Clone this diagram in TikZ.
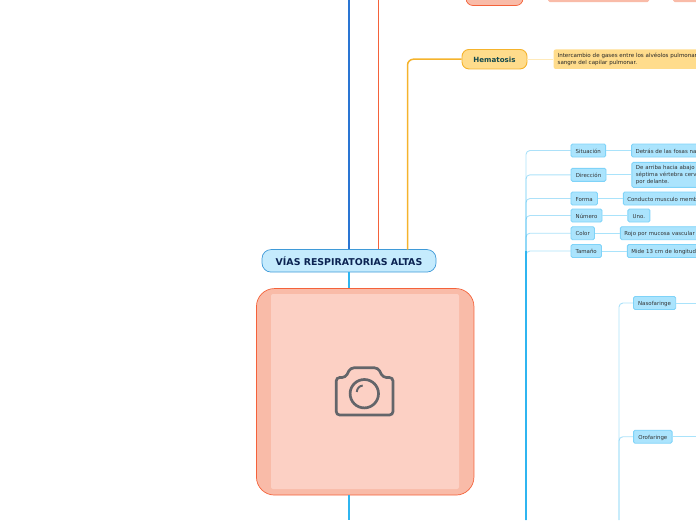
\documentclass[tikz,border=0pt]{standalone}
\usepackage{fontspec}
\setmainfont{DejaVu Sans}
\usetikzlibrary{positioning}
\definecolor{mainblue}{HTML}{2A75D3}
\definecolor{mainred}{HTML}{F4623A}
\definecolor{mainorange}{HTML}{F5B32C}
\definecolor{skyline}{HTML}{2FB5F0}
\definecolor{skyfill}{HTML}{ABE4FD}
\definecolor{skyedge}{HTML}{7FD3F8}
\definecolor{skylight}{HTML}{A9E3FB}
\definecolor{titlefill}{HTML}{C5EBFD}
\definecolor{titleedge}{HTML}{3F9AD8}
\definecolor{titletext}{HTML}{0B2352}
\definecolor{hematext}{HTML}{14494D}
\definecolor{yellowfill}{HTML}{FFDC8C}
\definecolor{salmonfill}{HTML}{F9BBA8}
\definecolor{salmonlight}{HTML}{FCD0C4}
\definecolor{icongray}{HTML}{63656A}
\tikzset{
    subbox/.style={draw=skyedge, line width=0.9pt, fill=skyfill, rounded corners=1.5pt, inner sep=0pt,
        minimum height=13pt, text height=5pt, text depth=0pt, font=\fontsize{5.45}{6.7}\selectfont, text=black!80},
    detailbox/.style={subbox, align=left, text width=#1, inner sep=0pt, inner xsep=4pt},
    branchline/.style={skyline, opacity=0.4, line width=0.9pt, rounded corners=4pt},
    leafline/.style={skylight, line width=0.8pt}
}
\begin{document}
\begin{tikzpicture}[x=1pt, y=-1pt]
        \useasboundingbox (0,0) rectangle (696,520);
        % central topic and picture
        \node[draw=titleedge, fill=titlefill, rounded corners=9pt, line width=0.7pt, minimum width=174pt, minimum height=22.5pt,
            inner sep=0pt, text=titletext, font=\fontsize{9.4}{11}\selectfont\bfseries] (vias) at (349,260.8) {VÍAS RESPIRATORIAS ALTAS};
        \node[draw=mainred, fill=salmonfill, rounded corners=18pt, line width=0.7pt, minimum width=217.5pt, minimum height=206.5pt, inner sep=0pt] (imagen) at (365.2,391.8) {};
        \node[fill=salmonlight, rounded corners=2pt, minimum width=188pt, minimum height=195pt, inner sep=0pt] (foto) at (365,391.5) {};
        \coordinate (topblue) at (349.2,0);
        \coordinate (topred) at (378.3,0);
        \coordinate (bottomline) at (349.2,520);
        \draw[mainblue, line width=1.5pt] (topblue) -- (topblue |- vias.north);
        \draw[mainred, line width=1.6pt] (topred) -- (topred |- vias.north);
        \draw[skyline, line width=1.6pt] (topblue |- vias.south) -- (topblue |- imagen.north);
        \draw[skyline, line width=1.6pt] (topblue |- imagen.south) -- (bottomline);
        % camera
        \draw[icongray, line width=2.7pt, rounded corners=3.5pt] (336.2,377.5) -- (345.5,377.5) -- (350.5,367.8) -- (378,367.8) -- (383,377.5) -- (393,377.5) -- (393,415) -- (336.2,415) -- cycle;
        \draw[icongray, line width=2.7pt] (364.3,393.7) circle (14.2pt);
        \draw[icongray, line width=1.9pt] (356.8,392) arc[start angle=180, end angle=95, radius=6.5pt];
        % top cut nodes
        \node[draw=mainred, fill=salmonfill, rounded corners=7pt, line width=0.7pt, minimum width=57pt, minimum height=22pt, inner sep=0pt] (rojo) at (494.5,-5.5) {};
        \node[fill=salmonfill, rounded corners=1.5pt, minimum width=101pt, minimum height=14pt, inner sep=0pt] (rojoa) at (598.5,-5) {};
        \node[fill=salmonfill, rounded corners=1.5pt, minimum width=60pt, minimum height=14pt, inner sep=0pt] (rojob) at (703,-5) {};
        % hematosis
        \node[draw=mainorange, fill=yellowfill, rounded corners=7pt, line width=0.9pt, minimum width=65pt, minimum height=19.5pt, inner sep=0pt,
            text height=6pt, text depth=0pt, text=hematext, font=\fontsize{7.1}{8}\selectfont\bfseries] (hematosis) at (494.5,59.2) {Hematosis};
        \node[fill=yellowfill, rounded corners=2pt, align=left, text width=175pt, inner xsep=4pt, inner ysep=0pt, minimum height=19.5pt, anchor=west,
            text=black!85, font=\fontsize{5.55}{7}\selectfont, right=26pt of hematosis] (intercambio) {Intercambio de gases entre los alvéolos pulmonar\\sangre del capilar pulmonar.};
        \draw[mainorange, line width=1.5pt, rounded corners=6pt] (hematosis.west) -| (407.5,249.5);
        \draw[yellowfill!60, line width=0.8pt] (hematosis) -- (intercambio);
        % first group
        \node[subbox, minimum width=34.7pt] (situacion) at (588.3,150.5) {Situación};
        \node[subbox, minimum width=35pt] (direccion) at (588.5,174.8) {Dirección};
        \node[subbox, minimum width=26.5pt] (forma) at (584.2,198.5) {Forma};
        \node[subbox, minimum width=31pt] (numero) at (586.5,215.5) {Número};
        \node[subbox, minimum width=23.5pt] (color) at (582.7,233.2) {Color};
        \node[subbox, minimum width=30.5pt] (tamano) at (586.2,251) {Tamaño};
        \node[detailbox=70pt, right=25pt of situacion] (detras) {Detrás de las fosas na};
        \node[detailbox=70pt, text height=, text depth=, minimum height=25pt, right=25pt of direccion] (arriba) {De arriba hacia abajo\\séptima vértebra cerv\\por delante.};
        \node[detailbox=80pt, right=25pt of forma] (conducto) {Conducto musculo memb};
        \node[subbox, minimum width=22pt, right=25pt of numero] (uno) {Uno.};
        \node[detailbox=85pt, right=25pt of color] (mucosa) {Rojo por mucosa vascular};
        \node[detailbox=85pt, right=25pt of tamano] (mide) {Mide 13 cm de longitud};
        \coordinate (trunkend) at (526,520);
        \coordinate (trunkthick) at (526,251);
        \foreach \a/\b in {situacion/detras, direccion/arriba, forma/conducto, numero/uno, color/mucosa, tamano/mide} {
            \draw[branchline] (\a.west) -| (trunkend);
            \draw[leafline] (\a) -- (\b);
        }
        \draw[skyline, line width=1.8pt] (trunkthick) -- (trunkend);
        % faringe
        \node[subbox, minimum width=42.2pt] (nasofaringe) at (654.6,303) {Nasofaringe};
        \node[subbox, minimum width=38.5pt] (orofaringe) at (652.8,436.7) {Orofaringe};
        \coordinate (nasoend) at (696,303);
        \coordinate (oroend) at (696,436.7);
        \coordinate (faringeend) at (619,520);
        \draw[branchline] (nasofaringe.west) -| (faringeend);
        \draw[branchline] (orofaringe.west) -| (faringeend);
        \draw[leafline] (nasofaringe) -- (nasoend);
        \draw[leafline] (orofaringe) -- (oroend);
    \end{tikzpicture}
\end{document}
